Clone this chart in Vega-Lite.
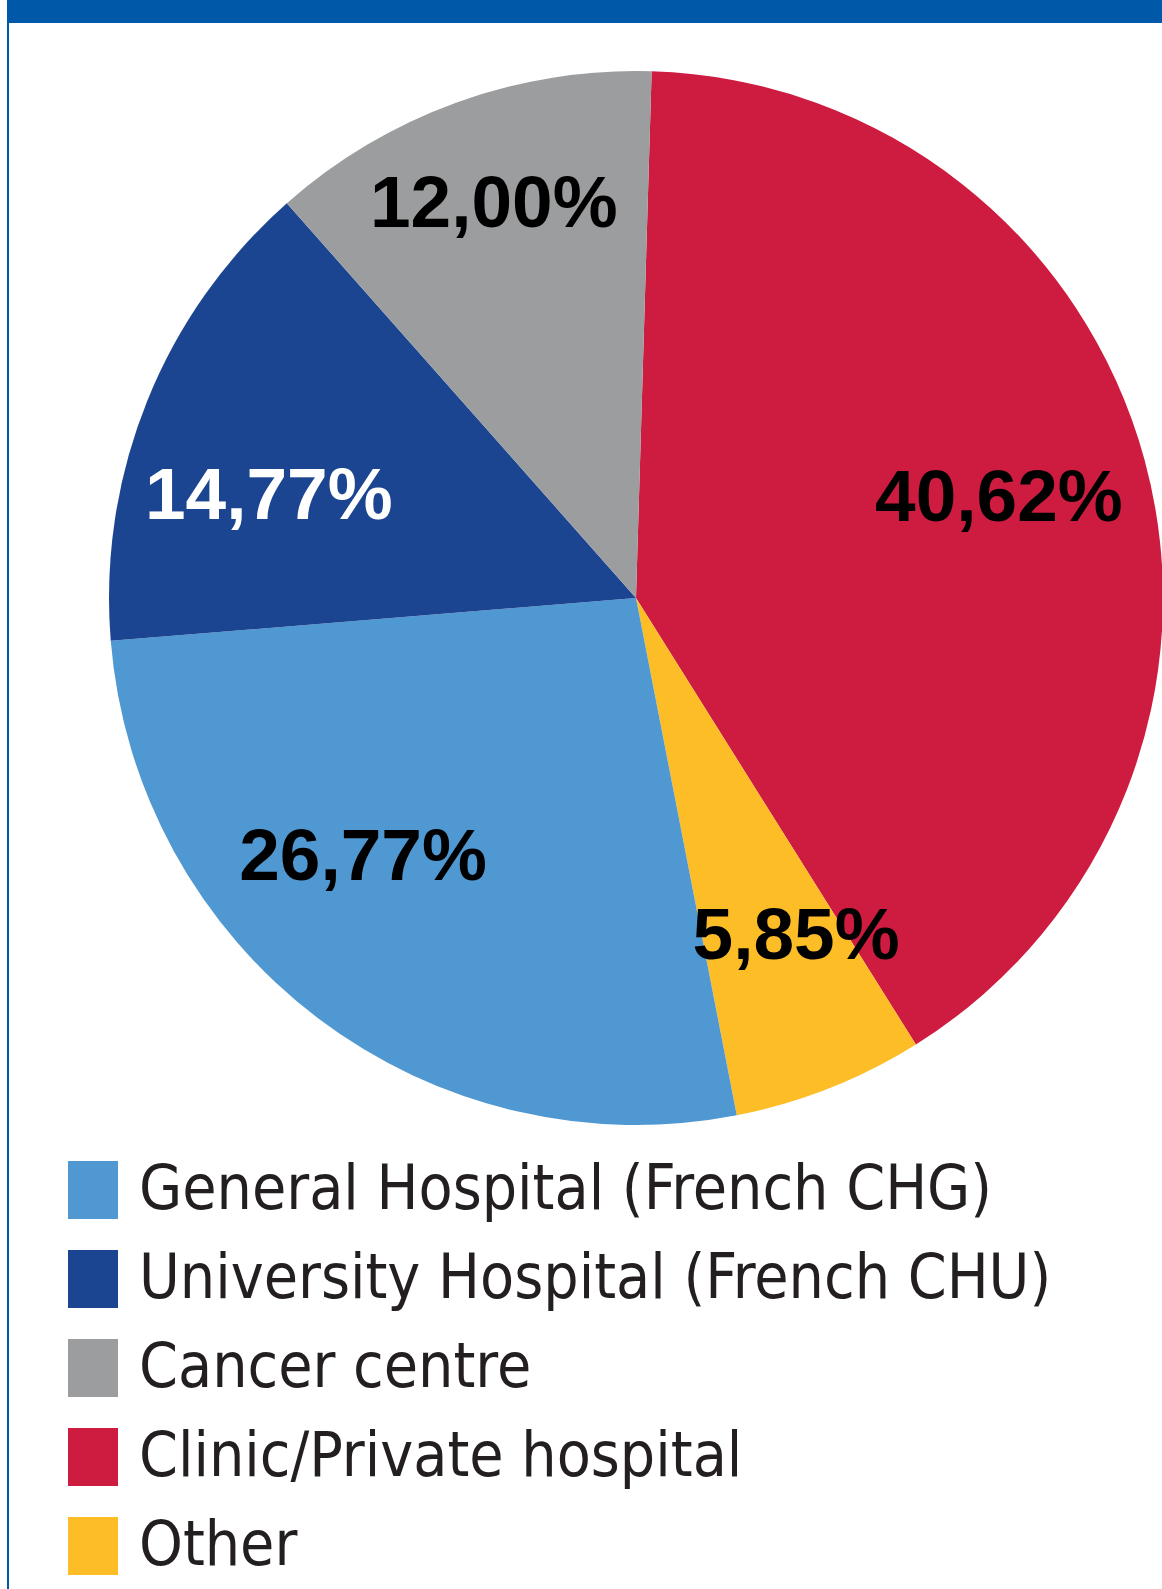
{
  "$schema": "https://vega.github.io/schema/vega-lite/v6.json",
  "padding": {"left": 7, "top": 0, "right": 0, "bottom": 0},
  "background": "white",
  "config": {"view": {"stroke": null}},
  "datasets": {
    "shares": [
      {"category": "Clinic/Private hospital", "value": 40.62, "label": "40,62%", "ord": 1},
      {"category": "Other", "value": 5.85, "label": "5,85%", "ord": 2},
      {"category": "General Hospital (French CHG)", "value": 26.77, "label": "26,77%", "ord": 3},
      {"category": "University Hospital (French CHU)", "value": 14.77, "label": "14,77%", "ord": 4},
      {"category": "Cancer centre", "value": 12.00, "label": "12,00%", "ord": 5}
    ],
    "blank": [{"k": 1}]
  },
  "spacing": 0,
  "bounds": "flush",
  "vconcat": [
    {
      "width": 1155,
      "height": 23,
      "view": {"fill": "#0059A8", "stroke": null},
      "data": {"name": "blank"},
      "mark": {"type": "text", "text": ""},
      "encoding": {}
    },
    {
      "spacing": 0,
      "bounds": "flush",
      "hconcat": [
        {
          "width": 2,
          "height": 1566,
          "view": {"fill": "#0059A8", "stroke": null},
          "data": {"name": "blank"},
          "mark": {"type": "text", "text": ""},
          "encoding": {}
        },
        {
          "width": 1254,
          "height": 1150,
          "data": {"name": "shares"},
          "encoding": {
            "theta": {"field": "value", "type": "quantitative", "stack": true, "scale": {"range": [0.0297, 6.3129]}},
            "order": {"field": "ord", "type": "quantitative"}
          },
          "layer": [
            {
              "mark": {"type": "arc", "outerRadius": 527, "stroke": null},
              "encoding": {
                "color": {
                  "field": "category",
                  "type": "nominal",
                  "scale": {
                    "domain": ["General Hospital (French CHG)", "University Hospital (French CHU)", "Cancer centre", "Clinic/Private hospital", "Other"],
                    "range": ["#4F98D2", "#1B4491", "#9B9D9E", "#CD1C40", "#FDBD27"]
                  },
                  "legend": {
                    "title": null,
                    "orient": "none",
                    "legendX": 55,
                    "legendY": 1159,
                    "direction": "vertical",
                    "symbolType": "M-0.862,-1H0.862V1H-0.862Z",
                    "symbolSize": 3364,
                    "symbolStrokeWidth": 0,
                    "symbolOpacity": 1,
                    "labelFont": "DejaVu Sans Condensed, sans-serif",
                    "labelFontSize": 62,
                    "labelColor": "#231F20",
                    "labelOffset": 15,
                    "labelLimit": 3000,
                    "rowPadding": 27,
                    "padding": 0
                  }
                }
              }
            },
            {
              "mark": {"type": "text", "radius": 376, "font": "Liberation Sans", "fontWeight": "bold", "fontSize": 73, "baseline": "middle", "align": "center", "fill": "#000000"},
              "encoding": {"text": {"condition": {"test": "datum.category === 'Clinic/Private hospital'", "field": "label"}, "value": ""}}
            },
            {
              "mark": {"type": "text", "radius": 418, "font": "Liberation Sans", "fontWeight": "bold", "fontSize": 73, "baseline": "middle", "align": "center", "fill": "#000000"},
              "encoding": {"text": {"condition": {"test": "datum.category === 'Cancer centre'", "field": "label"}, "value": ""}}
            },
            {
              "mark": {"type": "text", "radius": 381, "thetaOffset": -0.113, "font": "Liberation Sans", "fontWeight": "bold", "fontSize": 73, "baseline": "middle", "align": "center", "fill": "#FFFFFF"},
              "encoding": {"text": {"condition": {"test": "datum.category === 'University Hospital (French CHU)'", "field": "label"}, "value": ""}}
            },
            {
              "mark": {"type": "text", "radius": 377, "thetaOffset": 0.161, "font": "Liberation Sans", "fontWeight": "bold", "fontSize": 73, "baseline": "middle", "align": "center", "fill": "#000000"},
              "encoding": {"text": {"condition": {"test": "datum.category === 'General Hospital (French CHG)'", "field": "label"}, "value": ""}}
            },
            {
              "mark": {"type": "text", "radius": 375, "thetaOffset": -0.065, "font": "Liberation Sans", "fontWeight": "bold", "fontSize": 73, "baseline": "middle", "align": "center", "fill": "#000000"},
              "encoding": {"text": {"condition": {"test": "datum.category === 'Other'", "field": "label"}, "value": ""}}
            }
          ]
        }
      ]
    }
  ]
}
